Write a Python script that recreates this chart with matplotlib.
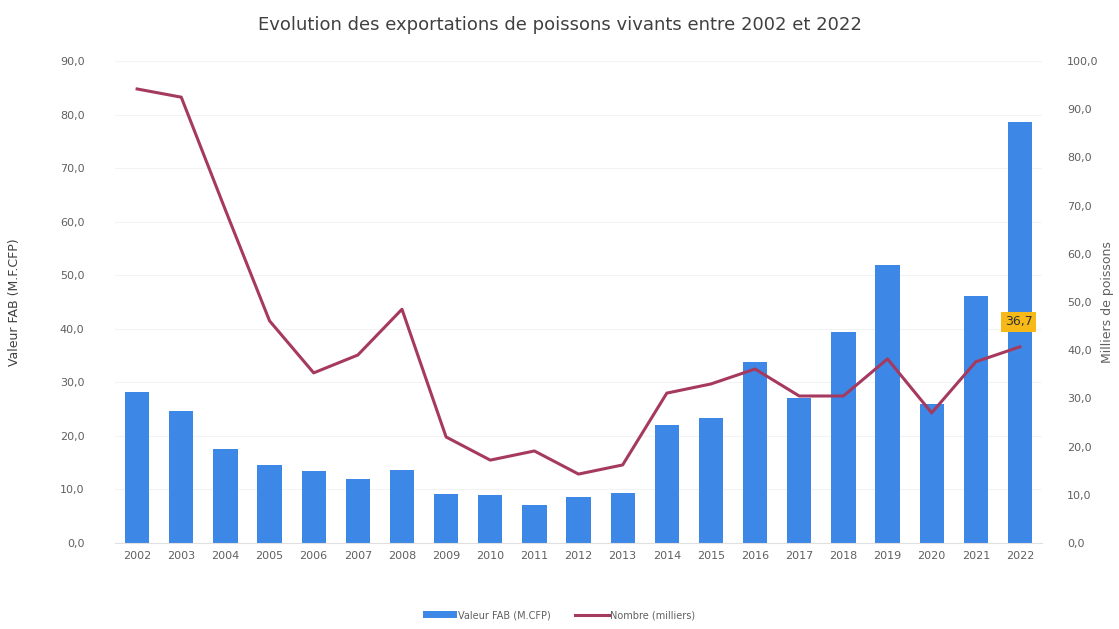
import matplotlib.pyplot as plt
import numpy as np

years = [str(y) for y in range(2002, 2023)]
valeur_fab = [28.2, 24.6, 17.5, 14.6, 13.4, 12.0, 13.6, 9.1, 9.0, 7.1, 8.6,
              9.3, 22.0, 23.3, 33.8, 27.0, 39.4, 51.9, 25.9, 46.1, 78.7]
nombre = [94.2, 92.5, 69.1, 46.1, 35.3, 39.0, 48.5, 22.0, 17.2, 19.1, 14.3,
          16.2, 31.1, 33.0, 36.1, 30.5, 30.5, 38.2, 27.0, 37.6, 40.7]
last_label = "36,7"

bar_color = "#3d87e6"
line_color = "#a63a5e"
text_color = "#606060"

fig = plt.figure(figsize=(11.19, 6.29), dpi=100)
ax = fig.add_axes([0.1028, 0.1367, 0.8284, 0.7663])
ax2 = ax.twinx()

x = np.arange(len(years))
bars = ax.bar(x, valeur_fab, width=0.55, color=bar_color, zorder=2,
              label="Valeur FAB (M.CFP)")
line, = ax2.plot(x, nombre, color=line_color, lw=2.2, zorder=3,
                 label="Nombre (milliers)")

ax.set_xlim(-0.5, len(years) - 0.5)
ax.set_ylim(0, 90)
ax2.set_ylim(0, 100)
ax.set_yticks(np.arange(0, 91, 10))
ax2.set_yticks(np.arange(0, 101, 10))
fmt = lambda v: f"{v:.1f}".replace(".", ",")
ax.set_yticklabels([fmt(v) for v in ax.get_yticks()])
ax2.set_yticklabels([fmt(v) for v in ax2.get_yticks()])
ax.set_xticks(x)
ax.set_xticklabels(years)

for a in (ax, ax2):
    for s in a.spines.values():
        s.set_visible(False)
    a.tick_params(length=0, labelsize=8, colors=text_color)
ax.spines["bottom"].set_visible(True)
ax.spines["bottom"].set_color("#e0e0e0")
ax.tick_params(axis="y", pad=22)
ax2.tick_params(axis="y", pad=18)
ax.tick_params(axis="x", pad=6)
ax.grid(axis="y", color="#f3f3f3", lw=0.8, zorder=0)
ax.set_axisbelow(True)

ax.set_ylabel("Valeur FAB (M.F.CFP)", fontsize=9, color="#404040", labelpad=28)
fig.text(0.99, 0.52, "Milliers de poissons", rotation=90, fontsize=9,
         color=text_color, ha="center", va="center")

ax2.annotate(last_label, (x[-1], nombre[-1]), xytext=(-1, 18),
             textcoords="offset points", ha="center", va="center",
             fontsize=9, color="#333333",
             bbox=dict(boxstyle="square,pad=0.3", fc="#f6b917", ec="none"))

fig.suptitle("Evolution des exportations de poissons vivants entre 2002 et 2022",
             y=0.975, fontsize=13, color="#404040")

fig.legend([bars, line], ["Valeur FAB (M.CFP)", "Nombre (milliers)"],
           loc="lower center", bbox_to_anchor=(0.5, 0.0), ncol=2, frameon=False,
           fontsize=7, labelcolor=text_color, handlelength=3.5,
           handletextpad=0.1, columnspacing=2.5)

fig.savefig("out.png", dpi=100)
